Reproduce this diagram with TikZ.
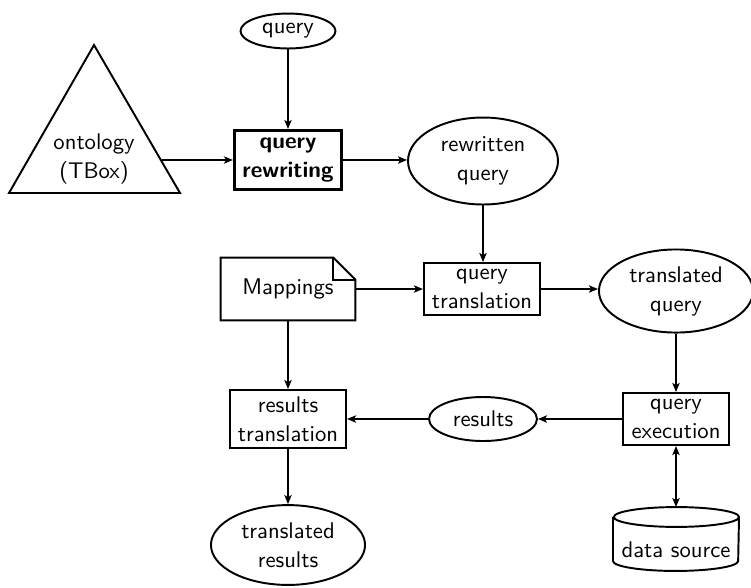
\documentclass[tikz,border=0pt]{standalone}
\usetikzlibrary{arrows.meta,shapes.geometric}
\begin{document}
\begin{tikzpicture}[x=0.4634pt,y=-0.4634pt,
  every node/.style={font=\sffamily\fontsize{10.5}{13.4}\selectfont, align=center, inner sep=0pt},
  ell/.style={draw, ellipse, line width=0.9pt},
  box/.style={draw, rectangle, line width=0.9pt},
  arr/.style={line width=0.9pt, -{Stealth[length=4.2pt,width=3.4pt,inset=1pt]}},
  darr/.style={line width=0.9pt, {Stealth[length=4.2pt,width=3.4pt,inset=1pt]}-{Stealth[length=4.2pt,width=3.4pt,inset=1pt]}}
]
\useasboundingbox (0,0) rectangle (751,587);
% ontology triangle
\draw[line width=0.9pt] (94,45) -- (180,193) -- (9,193) -- cycle;
\node (onto) at (94,159) {ontology\\(TBox)};
\coordinate (ontoR) at (162,160);
% nodes
\node[ell, minimum width=44pt, minimum height=16.2pt] (q) at (288,31) {query};
\node[box, line width=1.4pt, minimum width=49.6pt, minimum height=27.3pt] (qr) at (288,160) {\bfseries query\\\bfseries rewriting};
\node[ell, minimum width=69.5pt, minimum height=40.3pt] (rq) at (483,161) {rewritten\\query};
\node[box, minimum width=53.8pt, minimum height=24.1pt] (qt) at (482,289) {query\\translation};
\node[minimum width=62pt, minimum height=28.7pt] (map) at (288,289) {Mappings};
\draw[line width=0.9pt] (map.north west) -- ([xshift=-10.2pt]map.north east) -- ([yshift=-10.2pt]map.north east) -- (map.south east) -- (map.south west) -- cycle;
\draw[line width=0.9pt] ([xshift=-10.2pt]map.north east) -- ([xshift=-10.2pt,yshift=-10.2pt]map.north east) -- ([yshift=-10.2pt]map.north east);
\node[ell, minimum width=71.4pt, minimum height=38.5pt] (tq) at (676,291) {translated\\query};
\node[box, minimum width=48.7pt, minimum height=24.1pt] (qe) at (676,419) {query\\execution};
\node[ell, minimum width=50pt, minimum height=20.4pt] (res) at (483,419) {results};
\node[box, minimum width=53.8pt, minimum height=26.9pt] (rt) at (288,419) {results\\translation};
\node[ell, minimum width=71.4pt, minimum height=37pt] (tr) at (288,545) {translated\\results};
% data source cylinder
\node[minimum width=58pt, minimum height=29.2pt] (ds) at (676,539) {};
\node at (676,550) {data source};
\draw[line width=0.9pt] ([yshift=-4.6pt]ds.north west) -- ([yshift=4.6pt]ds.south west)
  arc[start angle=180, end angle=360, x radius=29pt, y radius=4.6pt]
  -- ([yshift=-4.6pt]ds.north east)
  arc[start angle=0, end angle=180, x radius=29pt, y radius=4.6pt]
  arc[start angle=180, end angle=360, x radius=29pt, y radius=4.6pt];
% connectors
\draw[arr] (q) -- (qr);
\draw[arr] (ontoR) -- (qr);
\draw[arr] (qr) -- (qr.east -| rq.west);
\draw[arr] (rq.south) -- (qt.north -| rq.south);
\draw[arr] (map.east) -- (qt.west);
\draw[arr] (qt.east) -- (qt.east -| tq.west);
\draw[arr] (tq.south) -- (qe.north);
\draw[arr] (qe.west) -- (res.east);
\draw[arr] (res.west) -- (rt.east);
\draw[arr] (map.south) -- (rt.north);
\draw[arr] (rt.south) -- (tr.north);
\draw[darr] (qe.south) -- (ds.north);
\end{tikzpicture}
\end{document}
